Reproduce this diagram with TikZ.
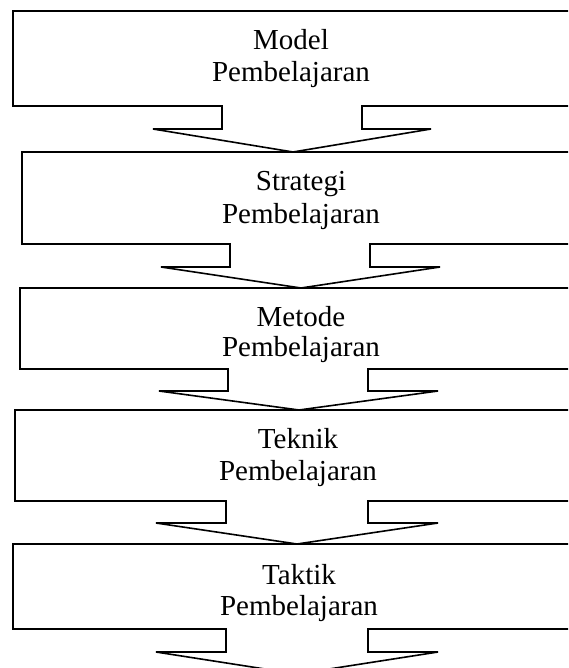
\documentclass[tikz,border=0pt]{standalone}
\usepackage{fontspec}
\setmainfont{Liberation Serif}
\begin{document}
\begin{tikzpicture}[x=1pt,y=-1pt,
  blockline/.style={draw=black,line width=1.6pt,line join=miter},
  label/.style={anchor=base,inner sep=0pt,font=\fontsize{29}{31}\selectfont}]
\useasboundingbox (0,0) rectangle (568,668);
\clip (0,0) rectangle (568,668);
% block with arrow: #1 left, #2 top, #3 bottom, #4 stem bottom, #5 stemL, #6 stemR, #7 wingL, #8 wingR, #9 tip x ; tip y given separately
\newcommand{\blockarrow}[9]{%
  \draw[blockline] (600,#2) -- (#1,#2) -- (#1,#3) -- (#5,#3) -- (#5,#4) -- (#7,#4)
    -- (#9) -- (#8,#4) -- (#6,#4) -- (#6,#3) -- (600,#3);}
\coordinate (tip1) at (293,152);
\coordinate (tip2) at (301,288);
\coordinate (tip3) at (299,410);
\coordinate (tip4) at (297,544);
\coordinate (tip5) at (297,674);
\blockarrow{13}{11}{106}{129}{222}{362}{153}{431}{tip1}
\blockarrow{22}{152}{244}{267}{230}{370}{161}{440}{tip2}
\blockarrow{20}{288}{369}{391}{228}{368}{159}{438}{tip3}
\blockarrow{15}{410}{501}{523}{226}{368}{156}{438}{tip4}
\blockarrow{13}{544}{629}{652}{226}{368}{156}{438}{tip5}
\node[label] (m1) at (291,50) {Model};
\node[label] (m2) at (291,82) {Pembelajaran};
\node[label] (s1) at (301,191) {Strategi};
\node[label] (s2) at (301,223) {Pembelajaran};
\node[label] (e1) at (301,326) {Metode};
\node[label] (e2) at (301,356) {Pembelajaran};
\node[label] (k1) at (298,448) {Teknik};
\node[label] (k2) at (298,480) {Pembelajaran};
\node[label] (t1) at (299,584) {Taktik};
\node[label] (t2) at (299,615) {Pembelajaran};
\end{tikzpicture}
\end{document}
